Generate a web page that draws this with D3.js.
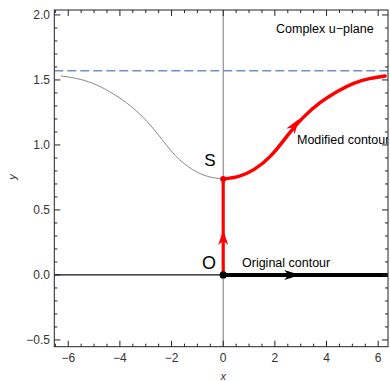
<!DOCTYPE html>
<html><head><meta charset="utf-8">
<script src="https://cdn.jsdelivr.net/npm/d3@7"></script>
<style>body{margin:0;background:#fff}svg{display:block;font-family:"Liberation Sans",Arial,sans-serif}</style>
</head><body><svg id="c" width="390" height="381"></svg>
<script>
// Data
const xTicks = [-6, -4, -2, 0, 2, 4, 6];
const yTicks = [-0.5, 0.0, 0.5, 1.0, 1.5, 2.0];
const asymptote = 1.5708;
const saddleY = 0.738;
const grayX = [-6.28, -5.7, -5.05, -4.4, -3.75, -3.1, -2.5, -1.85, -1.2, -0.6, 0];
const grayY = [1.531, 1.512, 1.474, 1.41, 1.325, 1.212, 1.075, 0.918, 0.812, 0.758, 0.738];
const redX = [0, 0.6, 1.2, 1.85, 2.5, 3.1, 3.75, 4.4, 5.05, 5.7, 6.27];
const redY = [0.738, 0.758, 0.812, 0.918, 1.075, 1.212, 1.325, 1.41, 1.474, 1.512, 1.531];
const origX = [0, 6.37];
const origY = [0, 0];
const labels = {title: "Complex u\u2212plane", modified: "Modified contour", original: "Original contour", s: "S", o: "O", xl: "x", yl: "y"};

const svg = d3.select("#c");
const L = 54.3, R = 388, T = 10, B = 346.7;
const x = d3.scaleLinear().domain([-6.54, 6.38]).range([L, R]);
const y = d3.scaleLinear().domain([-0.552, 2.038]).range([B, T]);

const defs = svg.append("defs");
defs.append("clipPath").attr("id","clip").append("rect").attr("x",L).attr("y",T).attr("width",R-L).attr("height",B-T);

const g = svg.append("g").attr("clip-path","url(#clip)");

// zero axes
g.append("line").attr("x1",x(0)).attr("x2",x(0)).attr("y1",T).attr("y2",B).attr("stroke","#777").attr("stroke-width",1);
g.append("line").attr("x1",L).attr("x2",R).attr("y1",y(0)).attr("y2",y(0)).attr("stroke","#111").attr("stroke-width",1.3);

// dashed asymptote
g.append("line").attr("x1",L).attr("x2",R).attr("y1",y(asymptote)).attr("y2",y(asymptote))
 .attr("stroke","#6f8fc5").attr("stroke-width",1.6).attr("stroke-dasharray","9,4");

const line = d3.line().x(d=>x(d[0])).y(d=>y(d[1])).curve(d3.curveNatural);
g.append("path").datum(d3.zip(grayX, grayY)).attr("d", line).attr("fill","none").attr("stroke","#888").attr("stroke-width",1);

// original contour
g.append("path").datum(d3.zip(origX, origY)).attr("d", d3.line().x(d=>x(d[0])).y(d=>y(d[1])))
 .attr("stroke","#000").attr("stroke-width",4).attr("fill","none");

// red vertical
g.append("line").attr("x1",x(0)).attr("x2",x(0)).attr("y1",y(0)).attr("y2",y(saddleY)).attr("stroke","#f00").attr("stroke-width",3.2);
// red curve
g.append("path").datum(d3.zip(redX, redY)).attr("d", line).attr("fill","none").attr("stroke","#f00").attr("stroke-width",3.5).attr("stroke-linecap","round");

// arrowheads
function arrow(px, py, ang, color, len, wid){
  const p = `M0,0 L${-len},${-wid/2} L${-len*0.72},0 L${-len},${wid/2} Z`;
  g.append("path").attr("d",p).attr("fill",color)
   .attr("transform",`translate(${px},${py}) rotate(${ang})`);
}
arrow(x(2.98), y(0), 0, "#000", 16, 10);
arrow(x(0), y(0.346), -90, "#f00", 15, 10);
{
  const x0 = x(2.5), y0 = y(1.075), x1 = x(2.93), y1 = y(1.2);
  const ang = Math.atan2(y1-y0, x1-x0)*180/Math.PI;
  arrow(x1, y1, ang, "#f00", 15, 10);
}

// points
g.append("circle").attr("cx",x(0)).attr("cy",y(0)).attr("r",3.6).attr("fill","#000");
g.append("circle").attr("cx",x(0)).attr("cy",y(saddleY)).attr("r",3).attr("fill","#e00");

// texts
g.append("text").attr("x",276).attr("y",33).attr("font-size",12.5).text(labels.title);
g.append("text").attr("x",297).attr("y",144).attr("font-size",12.5).text(labels.modified);
g.append("text").attr("x",242).attr("y",267).attr("font-size",12.5).text(labels.original);
g.append("text").attr("x",210).attr("y",166).attr("font-size",17).attr("text-anchor","middle").text(labels.s);
g.append("text").attr("x",209).attr("y",269).attr("font-size",18).attr("text-anchor","middle").text(labels.o);

// frame
svg.append("rect").attr("x",L).attr("y",T).attr("width",R-L).attr("height",B-T).attr("fill","none").attr("stroke","#222").attr("stroke-width",1);

// ticks
const tk = svg.append("g").attr("stroke","#222").attr("stroke-width",1);
const xMinor = d3.range(-6.5, 6.51, 0.5).filter(v=>Math.abs(v%2)>1e-9);
const yMinor = d3.range(-0.5, 2.01, 0.1).map(v=>Math.round(v*10)/10).filter(v=>Math.abs((v*10)%5)>1e-6);
xTicks.forEach(v=>{tk.append("line").attr("x1",x(v)).attr("x2",x(v)).attr("y1",B).attr("y2",B-6);
 tk.append("line").attr("x1",x(v)).attr("x2",x(v)).attr("y1",T).attr("y2",T+6);});
xMinor.forEach(v=>{tk.append("line").attr("x1",x(v)).attr("x2",x(v)).attr("y1",B).attr("y2",B-3);
 tk.append("line").attr("x1",x(v)).attr("x2",x(v)).attr("y1",T).attr("y2",T+3);});
yTicks.forEach(v=>{tk.append("line").attr("y1",y(v)).attr("y2",y(v)).attr("x1",L).attr("x2",L+6);
 tk.append("line").attr("y1",y(v)).attr("y2",y(v)).attr("x1",R).attr("x2",R-6);});
yMinor.forEach(v=>{tk.append("line").attr("y1",y(v)).attr("y2",y(v)).attr("x1",L).attr("x2",L+3);
 tk.append("line").attr("y1",y(v)).attr("y2",y(v)).attr("x1",R).attr("x2",R-3);});

const fmtX = d => d < 0 ? "\u2212" + Math.abs(d) : String(d);
const fmtY = d => (d < 0 ? "\u2212" : "") + Math.abs(d).toFixed(1);
svg.append("g").selectAll("text").data(xTicks).join("text")
 .attr("x",d=>x(d)).attr("y",361.5).attr("text-anchor","middle").attr("font-size",12).attr("fill","#333").text(fmtX);
svg.append("g").selectAll("text").data(yTicks).join("text")
 .attr("x",50).attr("y",d=>y(d)+4.3).attr("text-anchor","end").attr("font-size",12).attr("fill","#333").text(fmtY);

svg.append("text").attr("x",x(0)).attr("y",380).attr("text-anchor","middle").attr("font-size",11).attr("fill","#333").attr("font-style","italic").text(labels.xl);
svg.append("text").attr("transform","translate(16,177) rotate(-90)").attr("text-anchor","middle").attr("font-size",11).attr("fill","#333").attr("font-style","italic").text(labels.yl);
</script></body></html>
